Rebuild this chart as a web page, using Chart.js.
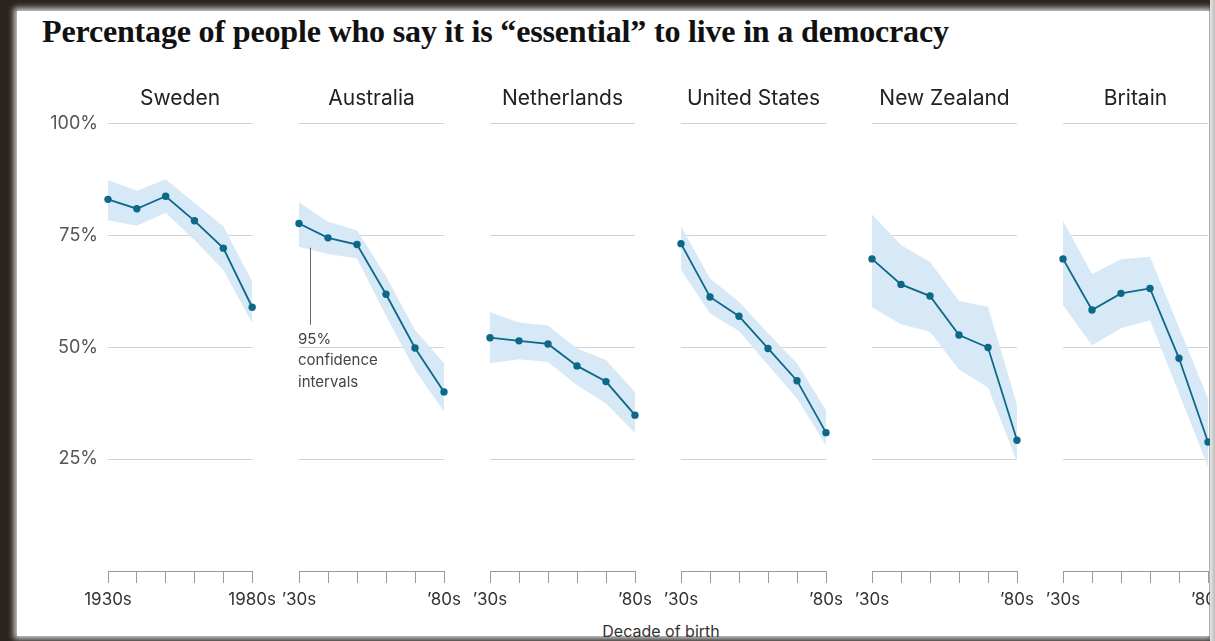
<!DOCTYPE html>
<html>
<head>
<meta charset="utf-8">
<script src="https://cdn.jsdelivr.net/npm/chart.js@4"></script>
<style>
  html, body { margin: 0; padding: 0; }
  body { width: 1215px; height: 641px; background: #2b231e; position: relative; overflow: hidden; }
  .paper { position: absolute; left: 17px; top: 11px; width: 1192px; height: 625px; background: #fff;
           box-shadow: 0 0 6px 3px rgba(255,255,255,0.8); }
  .rightEdge { position: absolute; left: 1210px; top: 0; width: 5px; height: 641px;
               background: linear-gradient(to right, #e6e6e6, #bdbdbd); z-index: 5; }
  h1 { position: absolute; left: 42px; top: 13px; margin: 0; font-family: "Liberation Serif", serif;
       font-weight: bold; font-size: 30px; color: #111; white-space: nowrap; letter-spacing: -0.2px; z-index: 3; }
  .xtitle { position: absolute; left: 561px; width: 200px; top: 621px; text-align: center;
            font-family: Inter, sans-serif; font-size: 16px; color: #333; z-index: 3; }
  canvas { position: absolute; z-index: 2; }
</style>
</head>
<body>
<div class="paper"></div>
<h1 id="title">Percentage of people who say it is “essential” to live in a democracy</h1>
<div class="xtitle">Decade of birth</div>
<div class="rightEdge"></div>

<script>
// Decade of birth categories and tick labels
const decades = ['1930s', '1940s', '1950s', '1960s', '1970s', '1980s'];
const firstTickLabels = ['1930s', '1980s'];
const shortTickLabels = ['’30s', '’80s'];
const countries = ['Sweden', 'Australia', 'Netherlands', 'United States', 'New Zealand', 'Britain'];
const yTicks = [25, 50, 75, 100];

// Share saying "essential" (%), with 95% confidence interval bounds
const swedenMid = [83.0, 80.9, 83.7, 78.2, 72.1, 58.9];
const swedenHigh = [87.3, 84.9, 87.5, 82.2, 77.0, 64.6];
const swedenLow = [78.3, 77.1, 80.0, 73.9, 67.2, 55.4];

const australiaMid = [77.6, 74.4, 72.9, 61.8, 49.8, 40.0];
const australiaHigh = [82.3, 78.0, 76.1, 65.8, 53.8, 46.4];
const australiaLow = [72.4, 70.8, 69.8, 57.0, 44.9, 35.6];

const netherlandsMid = [52.1, 51.4, 50.7, 45.8, 42.3, 34.8];
const netherlandsHigh = [57.8, 55.5, 54.8, 49.7, 47.1, 40.0];
const netherlandsLow = [46.4, 47.3, 46.7, 41.5, 37.4, 30.8];

const usMid = [73.1, 61.2, 56.9, 49.7, 42.5, 30.9];
const usHigh = [77.0, 65.3, 60.1, 53.1, 46.4, 35.9];
const usLow = [67.2, 57.5, 53.6, 46.0, 38.5, 28.1];

const nzMid = [69.7, 64.0, 61.4, 52.7, 49.9, 29.2];
const nzHigh = [79.6, 72.8, 69.0, 60.3, 59.0, 37.1];
const nzLow = [58.9, 55.1, 53.4, 45.0, 41.0, 24.4];

const britainMid = [69.7, 58.3, 62.0, 63.1, 47.5, 28.8];
const britainHigh = [78.2, 66.3, 69.6, 70.2, 54.4, 38.5];
const britainLow = [59.4, 50.4, 54.2, 56.0, 39.7, 23.3];

const mids = [swedenMid, australiaMid, netherlandsMid, usMid, nzMid, britainMid];
const highs = [swedenHigh, australiaHigh, netherlandsHigh, usHigh, nzHigh, britainHigh];
const lows = [swedenLow, australiaLow, netherlandsLow, usLow, nzLow, britainLow];

// Colors
const lineColor = '#0d6887';
const bandColor = '#d7e8f6';
const gridColor = '#d2d2d2';
const axisColor = '#9a9a9a';
const textColor = '#333';

// fit the headline to its width in the original
(function fitTitle() {
    const t = document.getElementById('title');
    let size = 30;
    t.style.fontSize = size + 'px';
    const w = t.getBoundingClientRect().width;
    size = size * 906 / w;
    t.style.fontSize = size.toFixed(2) + 'px';
})();

// Annotation for the confidence band (Australia panel only)
const ciNote = {
    id: 'ciNote',
    afterDatasetsDraw(chart) {
        const { ctx, scales: { x, y } } = chart;
        const lx = x.getPixelForValue(0) + (x.getPixelForValue(1) - x.getPixelForValue(0)) * 0.38;
        ctx.save();
        ctx.strokeStyle = '#666';
        ctx.lineWidth = 1;
        ctx.beginPath();
        ctx.moveTo(Math.round(lx) + 0.5, y.getPixelForValue(72.2));
        ctx.lineTo(Math.round(lx) + 0.5, y.getPixelForValue(55));
        ctx.stroke();
        ctx.fillStyle = '#444';
        ctx.font = '15px Inter, sans-serif';
        ctx.textBaseline = 'middle';
        const tx = x.getPixelForValue(0) - 1;
        ctx.fillText('95%', tx, y.getPixelForValue(51.6));
        ctx.fillText('confidence', tx, y.getPixelForValue(46.9));
        ctx.fillText('intervals', tx, y.getPixelForValue(42.2));
        ctx.restore();
    }
};

const panelLeft = 108;   // chart area left of first panel
const panelStep = 191;
const panelWidth = 145;
const yAxisWidth = 78;
const sidePad = 30;

countries.forEach((country, i) => {
    const first = i === 0;
    const canvas = document.createElement('canvas');
    const areaLeft = panelLeft + panelStep * i;
    const left = first ? areaLeft - yAxisWidth : areaLeft - sidePad;
    const width = first ? yAxisWidth + panelWidth + sidePad : sidePad * 2 + panelWidth;
    canvas.width = width;
    canvas.height = 535;
    canvas.style.left = left + 'px';
    canvas.style.top = '80px';
    document.body.appendChild(canvas);

    const ends = first ? firstTickLabels : shortTickLabels;

    new Chart(canvas, {
        type: 'line',
        data: {
            labels: decades,
            datasets: [
                {
                    label: country,
                    data: mids[i],
                    borderColor: lineColor,
                    backgroundColor: lineColor,
                    borderWidth: 1.8,
                    pointRadius: 3.7,
                    pointBorderWidth: 0,
                    tension: 0,
                    fill: false,
                    clip: false
                },
                {
                    label: 'upper',
                    data: highs[i],
                    borderWidth: 0,
                    pointRadius: 0,
                    backgroundColor: bandColor,
                    fill: '+1',
                    clip: false
                },
                {
                    label: 'lower',
                    data: lows[i],
                    borderWidth: 0,
                    pointRadius: 0,
                    fill: false,
                    clip: false
                }
            ]
        },
        options: {
            responsive: false,
            animation: false,
            devicePixelRatio: 1,
            layout: {
                padding: { left: first ? 0 : sidePad, right: sidePad, top: 0, bottom: 0 }
            },
            plugins: {
                legend: { display: false },
                tooltip: { enabled: false },
                title: {
                    display: true,
                    text: country,
                    fullSize: false,
                    color: '#222',
                    font: { family: 'Inter, sans-serif', size: 21, weight: 'normal', lineHeight: 1.2 },
                    padding: { top: 6, bottom: 12 }
                }
            },
            scales: {
                x: {
                    type: 'category',
                    offset: false,
                    grid: {
                        display: true,
                        drawOnChartArea: false,
                        drawTicks: true,
                        tickLength: 12,
                        color: axisColor,
                        offset: false
                    },
                    border: { display: true, color: axisColor },
                    ticks: {
                        autoSkip: false,
                        maxRotation: 0,
                        padding: 7,
                        color: textColor,
                        font: { family: 'Inter, sans-serif', size: 17 },
                        callback: (v, idx) => idx === 0 ? ends[0] : (idx === decades.length - 1 ? ends[1] : '')
                    },
                    afterFit: s => { s.height = 44; }
                },
                y: {
                    min: 0,
                    max: 100,
                    afterBuildTicks: s => { s.ticks = yTicks.map(v => ({ value: v })); },
                    grid: {
                        drawTicks: false,
                        color: gridColor,
                        lineWidth: 1
                    },
                    border: { display: false },
                    ticks: {
                        display: first,
                        padding: 10,
                        color: '#555',
                        font: { family: 'Inter, sans-serif', size: 18 },
                        callback: v => v + '%'
                    },
                    afterFit: s => { s.width = first ? yAxisWidth : 0; }
                }
            }
        },
        plugins: i === 1 ? [ciNote] : []
    });
});
</script>
</body>
</html>
